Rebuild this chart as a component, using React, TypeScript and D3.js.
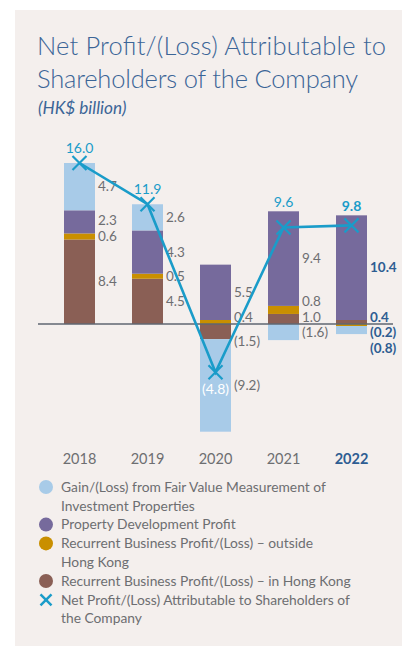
import React from 'react';
import * as d3 from 'd3';

const years = ['2018', '2019', '2020', '2021', '2022'];
const fairValue = [4.7, 2.6, -9.2, -1.6, -0.8];
const propertyDev = [2.3, 4.3, 5.5, 9.4, 10.4];
const outsideHK = [0.6, 0.5, 0.4, 0.8, -0.2];
const inHK = [8.4, 4.5, -1.5, 1.0, 0.4];
const netProfit = [16.0, 11.9, -4.8, 9.6, 9.8];
const highlightYear = '2022';

const seriesKeys = ['inHK', 'outsideHK', 'propertyDev', 'fairValue'];
const seriesColors: Record<string, string> = {
  inHK: '#8a5f55',
  outsideHK: '#c98f00',
  propertyDev: '#766a9c',
  fairValue: '#a8cbe8',
};
const legendItems = [
  { key: 'fairValue', lines: ['Gain/(Loss) from Fair Value Measurement of', 'Investment Properties'] },
  { key: 'propertyDev', lines: ['Property Development Profit'] },
  { key: 'outsideHK', lines: ['Recurrent Business Profit/(Loss) – outside', 'Hong Kong'] },
  { key: 'inHK', lines: ['Recurrent Business Profit/(Loss) – in Hong Kong'] },
  { key: 'net', lines: ['Net Profit/(Loss) Attributable to Shareholders of', 'the Company'] },
];

const FONT = 'Lato, "Open Sans", sans-serif';
const GRAY = '#6d6e71';
const TITLE_BLUE = '#3b6597';
const DARK_BLUE = '#2e5d92';
const LINE_BLUE = '#1a9cc9';

const fmt = (v: number) => (v < 0 ? `(${Math.abs(v).toFixed(1)})` : v.toFixed(1));

export default function App() {
  const rows = years.map((y, i) => ({
    year: y,
    inHK: inHK[i],
    outsideHK: outsideHK[i],
    propertyDev: propertyDev[i],
    fairValue: fairValue[i],
  }));
  const stack = d3.stack<any>().keys(seriesKeys).offset(d3.stackOffsetDiverging);
  const stacked = stack(rows);
  const minV = d3.min(stacked, (s) => d3.min(s, (d) => d[0])) as number;
  const maxV = d3.max(stacked, (s) => d3.max(s, (d) => d[1])) as number;

  const y = d3.scaleLinear().domain([minV, maxV]).range([431.7, 163]);
  const x = d3.scalePoint<string>().domain(years).range([79.5, 351.5]);
  const barW = 31;

  const pts = netProfit.map((v, i) => [x(years[i]) as number, y(v)] as [number, number]);
  // does the net line cross a label box?
  const hitsLine = (cy: number, x0: number, w: number) => {
    const top = cy - 6;
    const bot = cy + 6;
    for (let k = 0; k < pts.length - 1; k++) {
      const [ax, ay] = pts[k];
      const [bx, by] = pts[k + 1];
      const y0 = Math.max(Math.min(ay, by), top);
      const y1 = Math.min(Math.max(ay, by), bot);
      if (y0 > y1) continue;
      const xAt = (yy: number) => (ay === by ? ax : ax + ((yy - ay) / (by - ay)) * (bx - ax));
      const xa = xAt(y0);
      const xb = xAt(y1);
      const lo = Math.min(xa, xb);
      const hi = Math.max(xa, xb);
      if (hi >= x0 - 1 && lo <= x0 + w) return true;
    }
    return false;
  };

  const labels: { x: number; y: number; text: string; bold: boolean }[] = [];
  years.forEach((yr, i) => {
    const bold = yr === highlightYear;
    const lx = (x(yr) as number) + barW / 2 + 3;
    const pos: { c: number; text: string }[] = [];
    const neg: { c: number; text: string }[] = [];
    stacked.forEach((s) => {
      const d = s[i];
      const v = (d.data as any)[s.key];
      const c = (y(d[0]) + y(d[1])) / 2;
      (v >= 0 ? pos : neg).push({ c, text: fmt(v) });
    });
    const gap = 16;
    pos.sort((a, b) => b.c - a.c);
    let last = Infinity;
    pos.forEach((p) => {
      let c = Math.min(p.c, y(0) - 7);
      if (last - c < gap) c = last - gap;
      last = c;
      labels.push({ x: lx, y: c, text: p.text, bold });
    });
    neg.sort((a, b) => a.c - b.c);
    let lastN = -Infinity;
    neg.forEach((p) => {
      let c = Math.max(p.c, y(0) + 8.5);
      if (c - lastN < gap) c = lastN + gap;
      const w = p.text.length * 7;
      let guard = 0;
      while (hitsLine(c, lx, w) && guard < 60) {
        c += 1;
        guard++;
      }
      lastN = c;
      labels.push({ x: lx, y: c, text: p.text, bold });
    });
  });

  const line = d3
    .line<number>()
    .x((_, i) => x(years[i]) as number)
    .y((d) => y(d));

  const topOf = (i: number) => y(d3.max(stacked, (s) => s[i][1]) as number);

  const xMark = (cx: number, cy: number, r: number, sw: number, key: string) => (
    <g key={key} stroke={LINE_BLUE} strokeWidth={sw} strokeLinecap="butt">
      <line x1={cx - r} y1={cy - r} x2={cx + r} y2={cy + r} />
      <line x1={cx - r} y1={cy + r} x2={cx + r} y2={cy - r} />
    </g>
  );

  let legendY = 487;
  const legendLineH = 18.8;

  return (
    <div style={{ position: 'absolute', left: 0, top: 0 }}>
      <svg width={402} height={646} style={{ display: 'block' }} fontFamily={FONT}>
        <rect x={15} y={10} width={387} height={636} fill="#f4efed" />
        <text x={37} y={55} fill={TITLE_BLUE} fontSize={25.5} fontWeight={300} textLength={349} lengthAdjust="spacing">
          Net Profit/(Loss) Attributable to
        </text>
        <text x={37} y={88} fill={TITLE_BLUE} fontSize={25.5} fontWeight={300} textLength={321} lengthAdjust="spacing">
          Shareholders of the Company
        </text>
        <text x={38} y={114} fill={TITLE_BLUE} fontSize={17.2} fontStyle="italic" fontWeight={400}>
          (HK$ billion)
        </text>

        {stacked.map((s) => (
          <g key={s.key} fill={seriesColors[s.key]}>
            {s.map((d, i) => (
              <rect
                key={i}
                x={(x(years[i]) as number) - barW / 2}
                y={y(d[1])}
                width={barW}
                height={Math.max(0, y(d[0]) - y(d[1]))}
              />
            ))}
          </g>
        ))}

        <line x1={38} x2={393} y1={y(0)} y2={y(0)} stroke="#5f6670" strokeWidth={1.3} />

        {labels.map((l, i) => (
          <text
            key={i}
            x={l.x}
            y={l.y}
            dy="0.35em"
            fontSize={13.5}
            fill={l.bold ? DARK_BLUE : GRAY}
            fontWeight={l.bold ? 700 : 400}
          >
            {l.text}
          </text>
        ))}

        <path d={line(netProfit) || ''} fill="none" stroke={LINE_BLUE} strokeWidth={2.6} />
        {netProfit.map((v, i) => xMark(x(years[i]) as number, y(v), 7, 2.2, 'm' + i))}

        {netProfit.map((v, i) => {
          const cx = x(years[i]) as number;
          const bold = years[i] === highlightYear;
          const ly = v < 0 ? y(v) + 17 : Math.min(y(v) - 15, topOf(i) - 9);
          return (
            <text
              key={'n' + i}
              x={cx}
              y={ly}
              dy="0.35em"
              textAnchor="middle"
              fontSize={14}
              fontWeight={bold ? 700 : 400}
              fill={v < 0 ? '#ffffff' : LINE_BLUE}
            >
              {fmt(v)}
            </text>
          );
        })}

        {years.map((yr) => (
          <text
            key={yr}
            x={x(yr) as number}
            y={459}
            dy="0.35em"
            textAnchor="middle"
            fontSize={14.5}
            fill={yr === highlightYear ? DARK_BLUE : GRAY}
            fontWeight={yr === highlightYear ? 700 : 400}
          >
            {yr}
          </text>
        ))}

        {legendItems.map((item) => {
          const y0 = legendY;
          legendY += item.lines.length * legendLineH;
          return (
            <g key={item.key}>
              {item.key === 'net'
                ? xMark(46, y0, 5.5, 2.5, 'lx')
                : <circle cx={46} cy={y0} r={7} fill={seriesColors[item.key]} />}
              {item.lines.map((ln, j) => (
                <text key={j} x={61} y={y0 + j * legendLineH} dy="0.35em" fontSize={13.8} fill={GRAY}>
                  {ln}
                </text>
              ))}
            </g>
          );
        })}
      </svg>
    </div>
  );
}
